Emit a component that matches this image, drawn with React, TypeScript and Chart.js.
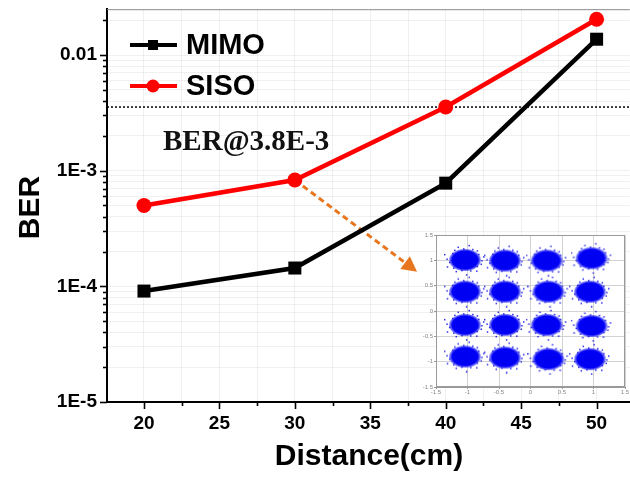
import React, { useEffect, useRef } from 'react';
import { Chart, registerables } from 'chart.js';

Chart.register(...registerables);

// ---------- data ----------
const distances = [20, 30, 40, 50];
const mimoBER = [9.1e-5, 1.44e-4, 7.8e-4, 0.0137];
const sisoBER = [5.0e-4, 8.3e-4, 3.55e-3, 0.0204];
const seriesNames = ['MIMO', 'SISO'];

const thresholdBER = 3.55e-3;
const thresholdLabel = 'BER@3.8E-3';

const xMajorTicks = [20, 25, 30, 35, 40, 45, 50];
const xMinorTicks = [22.5, 27.5, 32.5, 37.5, 42.5, 47.5];
const yMajorTicks = [1e-5, 1e-4, 1e-3, 1e-2];
const yMajorLabels = ['1E-5', '1E-4', '1E-3', '0.01'];
const yMinorMultipliers = [2, 3, 4, 5, 6, 7, 8, 9];

// arrow from SISO@30cm toward the inset (data coordinates)
const arrowX = [30, 38.1];
const arrowY = [8.3e-4, 1.34e-4];

// inset: 16-QAM constellation cluster centres
const clusterI = [
  -1.04, -0.405, 0.257, 0.97,
  -1.04, -0.405, 0.283, 0.944,
  -1.04, -0.405, 0.257, 0.97,
  -1.04, -0.405, 0.283, 0.944,
];
const clusterQ = [
  1.007, 0.994, 0.994, 1.04,
  0.381, 0.381, 0.381, 0.381,
  -0.276, -0.276, -0.276, -0.296,
  -0.90, -0.92, -0.95, -0.95,
];
const insetTicks = [-1.5, -1, -0.5, 0, 0.5, 1, 1.5];
const insetTickLabels = ['-1.5', '-1', '-0.5', '0', '0.5', '1', '1.5'];

// ---------- styles ----------
const FONT = '"Liberation Sans", Arial, Helvetica, sans-serif';
const SERIF = '"Liberation Serif", "Times New Roman", serif';
const RED = '#ff0000';
const BLACK = '#000000';
const ORANGE = '#e8761f';
const BLUE = 'rgba(0,0,235,1)';
// fixed speckle pattern around each cluster sprite (style only)
const SPECKLE_R = [1.08, 0.96, 1.22, 1.02, 1.3, 0.94, 1.15, 1.0, 1.25, 0.98, 1.12, 1.35, 0.95, 1.05, 1.18, 0.97, 1.28, 1.03, 1.1, 0.99, 1.2, 1.06];

function isMajorLog(v: number) {
  const l = Math.log10(v);
  return Math.abs(l - Math.round(l)) < 1e-6;
}

// sprite used for each constellation cluster (pure styling)
function makeBlob(): HTMLCanvasElement {
  const c = document.createElement('canvas');
  const w = 42, h = 32;
  c.width = w; c.height = h;
  const g = c.getContext('2d')!;
  g.save();
  g.translate(w / 2, h / 2);
  g.scale(1, 23 / 33);
  const r = 16.5;
  const grad = g.createRadialGradient(0, 0, 0, 0, 0, r);
  grad.addColorStop(0, 'rgba(0,0,240,1)');
  grad.addColorStop(0.78, 'rgba(0,0,245,1)');
  grad.addColorStop(0.92, 'rgba(20,20,245,0.55)');
  grad.addColorStop(1, 'rgba(40,40,255,0)');
  g.fillStyle = grad;
  g.beginPath();
  g.arc(0, 0, r, 0, Math.PI * 2);
  g.fill();
  g.restore();
  g.fillStyle = 'rgba(10,10,230,0.85)';
  const n = SPECKLE_R.length;
  for (let k = 0; k < n; k++) {
    const a = (k / n) * Math.PI * 2 + 0.35;
    const rr = SPECKLE_R[k];
    const px = w / 2 + Math.cos(a) * 16 * rr;
    const py = h / 2 + Math.sin(a) * 11.5 * rr;
    g.fillRect(px - 0.75, py - 0.75, 1.5, 1.5);
  }
  return c;
}

const zeroPad = (s: any) => {
  s.paddingLeft = 0;
  s.paddingRight = 0;
  s.paddingTop = 0;
  s.paddingBottom = 0;
};

const decorPlugin = {
  id: 'decor',
  beforeDatasetsDraw(chart: any) {
    const { ctx, chartArea, scales } = chart;
    const xs = scales.x, ys = scales.y;
    ctx.save();
    const ty = ys.getPixelForValue(thresholdBER);
    ctx.strokeStyle = BLACK;
    ctx.lineWidth = 1.5;
    ctx.setLineDash([2, 2]);
    ctx.beginPath();
    ctx.moveTo(chartArea.left, ty);
    ctx.lineTo(chartArea.right, ty);
    ctx.stroke();
    ctx.setLineDash([]);

    ctx.fillStyle = '#111';
    ctx.font = `bold 29px ${SERIF}`;
    ctx.textAlign = 'left';
    ctx.textBaseline = 'alphabetic';
    ctx.fillText(thresholdLabel, 163, 150);

    const x0 = xs.getPixelForValue(arrowX[0]);
    const y0 = ys.getPixelForValue(arrowY[0]);
    const x1 = xs.getPixelForValue(arrowX[1]);
    const y1 = ys.getPixelForValue(arrowY[1]);
    const ang = Math.atan2(y1 - y0, x1 - x0);
    const headLen = 15, headW = 8;
    const bx = x1 - headLen * Math.cos(ang);
    const by = y1 - headLen * Math.sin(ang);
    ctx.strokeStyle = ORANGE;
    ctx.lineWidth = 3;
    ctx.setLineDash([6, 4]);
    ctx.beginPath();
    ctx.moveTo(x0, y0);
    ctx.lineTo(bx, by);
    ctx.stroke();
    ctx.setLineDash([]);
    ctx.fillStyle = ORANGE;
    ctx.beginPath();
    ctx.moveTo(x1, y1);
    ctx.lineTo(bx + headW * Math.sin(ang), by - headW * Math.cos(ang));
    ctx.lineTo(bx - headW * Math.sin(ang), by + headW * Math.cos(ang));
    ctx.closePath();
    ctx.fill();
    ctx.restore();
  },
  afterDraw(chart: any) {
    const { ctx, chartArea, scales } = chart;
    const xs = scales.x, ys = scales.y;
    ctx.save();
    ctx.strokeStyle = '#8a8a8a';
    ctx.lineWidth = 1;
    ctx.beginPath();
    ctx.moveTo(chartArea.left, chartArea.top + 0.5);
    ctx.lineTo(chartArea.right, chartArea.top + 0.5);
    ctx.stroke();

    ctx.strokeStyle = BLACK;
    ctx.lineWidth = 1.6;
    ys.ticks.forEach((t: any) => {
      const p = Math.round(ys.getPixelForValue(t.value)) + 0.5;
      const len = isMajorLog(t.value) ? 7 : 4;
      ctx.beginPath();
      ctx.moveTo(chartArea.left - len, p);
      ctx.lineTo(chartArea.left, p);
      ctx.stroke();
    });
    xs.ticks.forEach((t: any) => {
      const p = Math.round(xs.getPixelForValue(t.value)) + 0.5;
      const len = xMajorTicks.includes(t.value) ? 7 : 4;
      ctx.beginPath();
      ctx.moveTo(p, chartArea.bottom);
      ctx.lineTo(p, chartArea.bottom + len);
      ctx.stroke();
    });

    ctx.fillStyle = BLACK;
    ctx.font = `bold 30px ${FONT}`;
    ctx.textAlign = 'center';
    ctx.textBaseline = 'middle';
    ctx.fillText('Distance(cm)', 369, 457);
    ctx.save();
    ctx.translate(31, (chartArea.top + chartArea.bottom) / 2 + 2);
    ctx.rotate(-Math.PI / 2);
    ctx.fillText('BER', 0, 0);
    ctx.restore();

    const rows = [45, 86];
    chart.data.datasets.forEach((ds: any, i: number) => {
      const y = rows[i];
      ctx.strokeStyle = ds.borderColor;
      ctx.lineWidth = 4;
      ctx.beginPath();
      ctx.moveTo(130, y);
      ctx.lineTo(177, y);
      ctx.stroke();
      ctx.fillStyle = ds.backgroundColor;
      if (ds.pointStyle === 'rect') {
        ctx.fillRect(148, y - 5, 10, 10);
      } else {
        ctx.beginPath();
        ctx.arc(153, y, 6.5, 0, Math.PI * 2);
        ctx.fill();
      }
      ctx.fillStyle = BLACK;
      ctx.font = `bold 29px ${FONT}`;
      ctx.textAlign = 'left';
      ctx.textBaseline = 'middle';
      ctx.fillText(ds.label, 186, y + 1);
    });
    ctx.restore();
  },
};

const insetBgPlugin = {
  id: 'insetBg',
  beforeDraw(chart: any) {
    const { ctx, chartArea } = chart;
    ctx.save();
    ctx.fillStyle = '#ffffff';
    ctx.fillRect(chartArea.left, chartArea.top, chartArea.right - chartArea.left, chartArea.bottom - chartArea.top);
    ctx.restore();
  },
  afterDraw(chart: any) {
    const { ctx, chartArea } = chart;
    ctx.save();
    ctx.strokeStyle = '#9a9a9a';
    ctx.lineWidth = 1;
    ctx.strokeRect(chartArea.left + 0.5, chartArea.top + 0.5, chartArea.right - chartArea.left - 1, chartArea.bottom - chartArea.top - 1);
    ctx.restore();
  },
};

export default function App() {
  const mainRef = useRef<HTMLCanvasElement | null>(null);
  const insetRef = useRef<HTMLCanvasElement | null>(null);

  useEffect(() => {
    const yTicks: number[] = [];
    for (let e = -5; e <= -2; e++) {
      yTicks.push(Math.pow(10, e));
      if (e < -2) yMinorMultipliers.forEach((m) => yTicks.push(m * Math.pow(10, e)));
      else yMinorMultipliers.filter((m) => m <= 2).forEach((m) => yTicks.push(m * Math.pow(10, e)));
    }
    const xTicks = [...xMajorTicks, ...xMinorTicks].sort((a, b) => a - b);

    const main = new Chart(mainRef.current!, {
      type: 'line',
      data: {
        datasets: [
          {
            label: seriesNames[0],
            data: distances.map((d, i) => ({ x: d, y: mimoBER[i] })),
            borderColor: BLACK,
            backgroundColor: BLACK,
            borderWidth: 4.5,
            pointStyle: 'rect',
            pointRadius: 9.2,
            pointBorderWidth: 0,
            pointHoverRadius: 9.2,
          },
          {
            label: seriesNames[1],
            data: distances.map((d, i) => ({ x: d, y: sisoBER[i] })),
            borderColor: RED,
            backgroundColor: RED,
            borderWidth: 4.5,
            pointStyle: 'circle',
            pointRadius: 7.5,
            pointBorderWidth: 0,
            pointHoverRadius: 7.5,
          },
        ],
      },
      options: {
        animation: false,
        responsive: false,
        clip: false as any,
        layout: { padding: { top: 9, right: 0, left: 0, bottom: 0 } },
        plugins: { legend: { display: false }, tooltip: { enabled: false } },
        scales: {
          x: {
            type: 'linear',
            min: 17.55,
            max: 52.2,
            afterFit: (s: any) => { s.height = 75; zeroPad(s); },
            afterBuildTicks: (s: any) => { s.ticks = xTicks.map((v) => ({ value: v })); },
            grid: { color: 'rgba(0,0,0,0.06)', tickLength: 8, tickColor: 'rgba(0,0,0,0)' },
            border: { display: true, color: BLACK, width: 2 },
            ticks: {
              autoSkip: false,
              maxRotation: 0,
              padding: 2,
              color: BLACK,
              font: { family: FONT, size: 19, weight: 'bold' },
              callback: (v: any) => (xMajorTicks.includes(Number(v)) ? String(v) : ''),
            },
          },
          y: {
            type: 'logarithmic',
            min: 1e-5,
            max: 0.0249,
            afterFit: (s: any) => { s.width = 107; zeroPad(s); },
            afterBuildTicks: (s: any) => { s.ticks = yTicks.map((v) => ({ value: v })); },
            grid: { color: 'rgba(0,0,0,0.06)', tickLength: 8, tickColor: 'rgba(0,0,0,0)' },
            border: { display: true, color: BLACK, width: 2 },
            ticks: {
              autoSkip: false,
              padding: 2,
              color: BLACK,
              font: { family: FONT, size: 19, weight: 'bold' },
              callback: (v: any) => {
                const idx = yMajorTicks.findIndex((m) => Math.abs(Math.log10(m) - Math.log10(Number(v))) < 1e-6);
                return idx >= 0 ? yMajorLabels[idx] : '';
              },
            },
          },
        },
      },
      plugins: [decorPlugin],
    });

    const blob = makeBlob();
    const insetFont = { family: FONT, size: 6 };
    const inset = new Chart(insetRef.current!, {
      type: 'scatter',
      data: {
        datasets: [
          {
            data: clusterI.map((x, i) => ({ x, y: clusterQ[i] })),
            pointStyle: blob as any,
            pointRadius: 1,
            pointHoverRadius: 1,
            pointBorderWidth: 0,
            backgroundColor: BLUE,
            borderColor: BLUE,
          },
        ],
      },
      options: {
        animation: false,
        responsive: false,
        clip: false as any,
        layout: { padding: { top: 7, right: 5, left: 0, bottom: 0 } },
        plugins: { legend: { display: false }, tooltip: { enabled: false } },
        scales: {
          x: {
            type: 'linear',
            min: -1.5,
            max: 1.5,
            afterFit: (s: any) => { s.height = 10; zeroPad(s); },
            afterBuildTicks: (s: any) => { s.ticks = insetTicks.map((v) => ({ value: v })); },
            grid: { color: '#d2d2d2', tickLength: 2, tickColor: '#999' },
            border: { color: '#999' },
            ticks: {
              padding: 0,
              color: '#888',
              font: insetFont,
              maxRotation: 0,
              autoSkip: false,
              callback: (v: any) => insetTickLabels[insetTicks.indexOf(Number(v))] ?? '',
            },
          },
          y: {
            type: 'linear',
            min: -1.5,
            max: 1.5,
            afterFit: (s: any) => { s.width = 21; zeroPad(s); },
            afterBuildTicks: (s: any) => { s.ticks = insetTicks.map((v) => ({ value: v })); },
            grid: { color: '#d2d2d2', tickLength: 2, tickColor: '#999' },
            border: { color: '#999' },
            ticks: {
              padding: 1,
              color: '#888',
              font: insetFont,
              autoSkip: false,
              callback: (v: any) => insetTickLabels[insetTicks.indexOf(Number(v))] ?? '',
            },
          },
        },
      },
      plugins: [insetBgPlugin],
    });

    return () => {
      main.destroy();
      inset.destroy();
    };
  }, []);

  return (
    <div style={{ position: 'fixed', left: 0, top: 0, width: 630, height: 477, background: '#fff', overflow: 'hidden' }}>
      <canvas ref={mainRef} width={639} height={477} style={{ position: 'absolute', left: 0, top: 0, display: 'block' }} />
      <canvas ref={insetRef} width={215} height={169} style={{ position: 'absolute', left: 415, top: 228, display: 'block' }} />
    </div>
  );
}
